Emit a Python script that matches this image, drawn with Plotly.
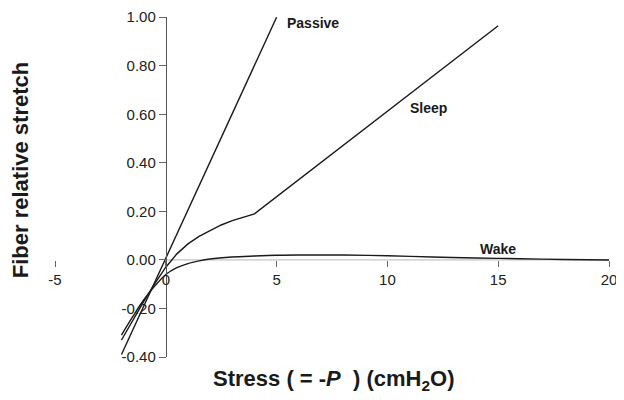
import plotly.graph_objects as go

# Values
passive_x = [-2.0, 5.0]
passive_y = [-0.39, 1.0]

sleep_x = [-2.0, -1.5, -1.0, -0.5, 0.0, 0.5, 1.0, 1.5, 2.0, 2.5, 3.0, 3.5, 4.0, 15.0]
sleep_y = [-0.33, -0.248, -0.172, -0.098, -0.03, 0.025, 0.066, 0.097, 0.122, 0.144, 0.162, 0.177, 0.19, 0.965]

wake_x = [-2.0, -1.5, -1.0, -0.5, 0.0, 0.5, 1.0, 1.5, 2.0, 3.0, 4.0, 5.0, 6.0, 8.0, 10.0, 12.0, 14.0, 16.0, 18.0, 20.0]
wake_y = [-0.31, -0.235, -0.165, -0.108, -0.06, -0.032, -0.015, -0.004, 0.004, 0.012, 0.016, 0.019, 0.02, 0.02, 0.017, 0.012, 0.008, 0.005, 0.002, 0.0]

x_ticks = [-5, 0, 5, 10, 15, 20]
y_ticks = [-0.4, -0.2, 0.0, 0.2, 0.4, 0.6, 0.8, 1.0]

labels = ["Passive", "Sleep", "Wake"]
label_x = [6.63, 11.84, 15.0]
label_y = [0.976, 0.628, 0.047]

FONT = "Liberation Sans, Arial, sans-serif"
INK = "#1a1a1a"

fig = go.Figure()

# faint zero line (x axis at y = 0)
fig.add_trace(go.Scatter(x=[0, 20], y=[0, 0], mode="lines",
                         line=dict(color="#b5b5b5", width=1), hoverinfo="skip"))

fig.add_trace(go.Scatter(x=passive_x, y=passive_y, mode="lines",
                         line=dict(color=INK, width=1.4), name="Passive"))
fig.add_trace(go.Scatter(x=sleep_x, y=sleep_y, mode="lines",
                         line=dict(color=INK, width=1.4), name="Sleep"))
fig.add_trace(go.Scatter(x=wake_x, y=wake_y, mode="lines", line_shape="spline",
                         line=dict(color=INK, width=1.4), name="Wake"))

for t, x, y in zip(labels, label_x, label_y):
    fig.add_annotation(x=x, y=y, text="<b>%s</b>" % t, showarrow=False,
                       font=dict(family=FONT, size=14, color=INK))

# axis titles
fig.add_annotation(xref="paper", yref="paper", x=-0.061, y=0.55, textangle=-90,
                   xanchor="center", yanchor="middle",
                   text="<b>Fiber relative stretch</b>", showarrow=False,
                   font=dict(family=FONT, size=22, color=INK))
fig.add_annotation(xref="paper", yref="paper", x=0.5036, y=-0.068,
                   xanchor="center", yanchor="middle",
                   text="<b>Stress ( = -<i>P</i>  ) (cmH<sub>2</sub>O)</b>", showarrow=False,
                   font=dict(family=FONT, size=22, color=INK))

# page body adds an 8px margin, so the figure is sized to fit the window
fig.update_layout(
    width=616, height=392,
    margin=dict(l=47, r=15, t=9, b=43),
    paper_bgcolor="white", plot_bgcolor="white",
    showlegend=False,
    font=dict(family=FONT, color=INK),
    xaxis=dict(range=[-5, 20], tickvals=x_ticks, ticktext=[str(v) for v in x_ticks],
               anchor="free", position=0.4 / 1.4, showline=False, showgrid=False,
               zeroline=False, ticks="outside", ticklen=6, tickcolor="#666",
               automargin=False, ticklabeloverflow="allow",
               tickfont=dict(size=15, color="#222")),
    yaxis=dict(range=[-0.4, 1.001], tickvals=y_ticks, ticktext=["%.2f" % v for v in y_ticks],
               anchor="free", position=0.2, showline=True, linecolor="#555", linewidth=1,
               showgrid=False, zeroline=False, ticks="outside", ticklen=7, tickcolor="#666",
               automargin=False, ticklabeloverflow="allow",
               tickfont=dict(size=15, color="#222")),
)

fig.write_html("out.html")
